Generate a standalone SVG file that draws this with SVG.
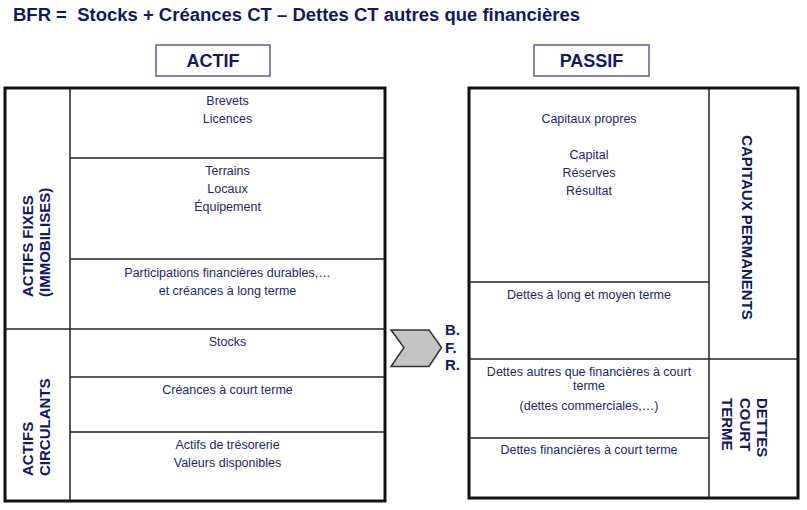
<svg xmlns="http://www.w3.org/2000/svg" width="807" height="510" viewBox="0 0 807 510">
<style>
.t{font-family:"Liberation Sans",Arial,sans-serif;font-size:12.5px;fill:#23256e;text-anchor:middle}
.b{font-family:"Liberation Sans",Arial,sans-serif;font-weight:bold;fill:#121766}
.v{font-size:15px}
.hdr{fill:#fff;stroke:#5b5ba3;stroke-width:1.5}
.outer{fill:#fff;stroke:#111;stroke-width:3}
.ln{stroke:#222;stroke-width:1.5;fill:none}
</style>
<rect width="807" height="510" fill="#fff"/>
<text id="title" class="b" x="13" y="21" font-size="17.5" textLength="567" lengthAdjust="spacingAndGlyphs">BFR =&#160; Stocks + Créances CT – Dettes CT autres que financières</text>

<g id="actif-header">
<rect class="hdr" x="156" y="45" width="114" height="31"/>
<text class="b" x="213" y="67" font-size="18" text-anchor="middle">ACTIF</text>
</g>
<g id="passif-header">
<rect class="hdr" x="534" y="45" width="115" height="31"/>
<text class="b" x="591.5" y="67" font-size="18" text-anchor="middle">PASSIF</text>
</g>

<g id="actif-table">
<rect class="outer" x="5" y="88" width="380" height="413"/>
<line class="ln" x1="70" y1="88" x2="70" y2="501"/>
<line class="ln" x1="70" y1="158" x2="385" y2="158"/>
<line class="ln" x1="70" y1="259" x2="385" y2="259"/>
<line class="ln" x1="5" y1="329" x2="385" y2="329"/>
<line class="ln" x1="70" y1="377" x2="385" y2="377"/>
<line class="ln" x1="70" y1="432" x2="385" y2="432"/>
</g>

<g id="actifs-fixes">
<text class="b v" transform="translate(33,297) rotate(-90)">ACTIFS FIXES</text>
<text class="b v" transform="translate(50,297) rotate(-90)">(IMMOBILISES)</text>
</g>
<g id="actifs-circulants">
<text class="b v" transform="translate(33,476) rotate(-90)">ACTIFS</text>
<text class="b v" transform="translate(50,476) rotate(-90)">CIRCULANTS</text>
</g>

<g id="brevets">
<text class="t" x="227.5" y="105">Brevets</text>
<text class="t" x="227.5" y="123">Licences</text>
</g>
<g id="terrains">
<text class="t" x="227.5" y="175">Terrains</text>
<text class="t" x="227.5" y="193">Locaux</text>
<text class="t" x="227.5" y="211">Équipement</text>
</g>
<g id="participations">
<text class="t" x="227.5" y="276.5">Participations financières durables,…</text>
<text class="t" x="227.5" y="294.5">et créances à long terme</text>
</g>
<g id="stocks">
<text class="t" x="227.5" y="346">Stocks</text>
</g>
<g id="creances">
<text class="t" x="227.5" y="393.5">Créances à court terme</text>
</g>
<g id="tresorerie">
<text class="t" x="227.5" y="448.5">Actifs de trésorerie</text>
<text class="t" x="227.5" y="466.5">Valeurs disponibles</text>
</g>

<g id="bfr">
<polygon points="391,330 429,330 441.5,347.5 429,366.5 391,366.5 404,347.5" fill="#c4c4c4" stroke="#333" stroke-width="1.5" stroke-linejoin="miter"/>
<text class="b" x="445" y="335" font-size="15">B.</text>
<text class="b" x="445" y="352.5" font-size="15">F.</text>
<text class="b" x="445" y="370" font-size="15">R.</text>
</g>

<g id="passif-table">
<rect class="outer" x="469" y="88" width="329" height="410"/>
<line class="ln" x1="709" y1="88" x2="709" y2="498"/>
<line class="ln" x1="469" y1="282" x2="709" y2="282"/>
<line class="ln" x1="469" y1="359" x2="798" y2="359"/>
<line class="ln" x1="469" y1="438" x2="709" y2="438"/>
</g>

<g id="capitaux-propres">
<text class="t" x="589" y="123">Capitaux propres</text>
<text class="t" x="589" y="159">Capital</text>
<text class="t" x="589" y="177">Réserves</text>
<text class="t" x="589" y="194.5">Résultat</text>
</g>
<g id="dettes-lmt">
<text class="t" x="589" y="298.5">Dettes à long et moyen terme</text>
</g>
<g id="dettes-autres">
<text class="t" x="589" y="375.5">Dettes autres que financières à court</text>
<text class="t" x="589" y="390">terme</text>
<text class="t" x="589" y="410">(dettes commerciales,…)</text>
</g>
<g id="dettes-fin">
<text class="t" x="589" y="454">Dettes financières à court terme</text>
</g>

<g id="capitaux-permanents">
<text class="b v" text-anchor="middle" transform="translate(742,227.5) rotate(90)">CAPITAUX PERMANENTS</text>
</g>
<g id="dettes-court-terme">
<text class="b v" transform="translate(757,398) rotate(90)">DETTES</text>
<text class="b v" transform="translate(739.5,398) rotate(90)">COURT</text>
<text class="b v" transform="translate(722,398) rotate(90)">TERME</text>
</g>
<g id="connectors"></g>
</svg>
